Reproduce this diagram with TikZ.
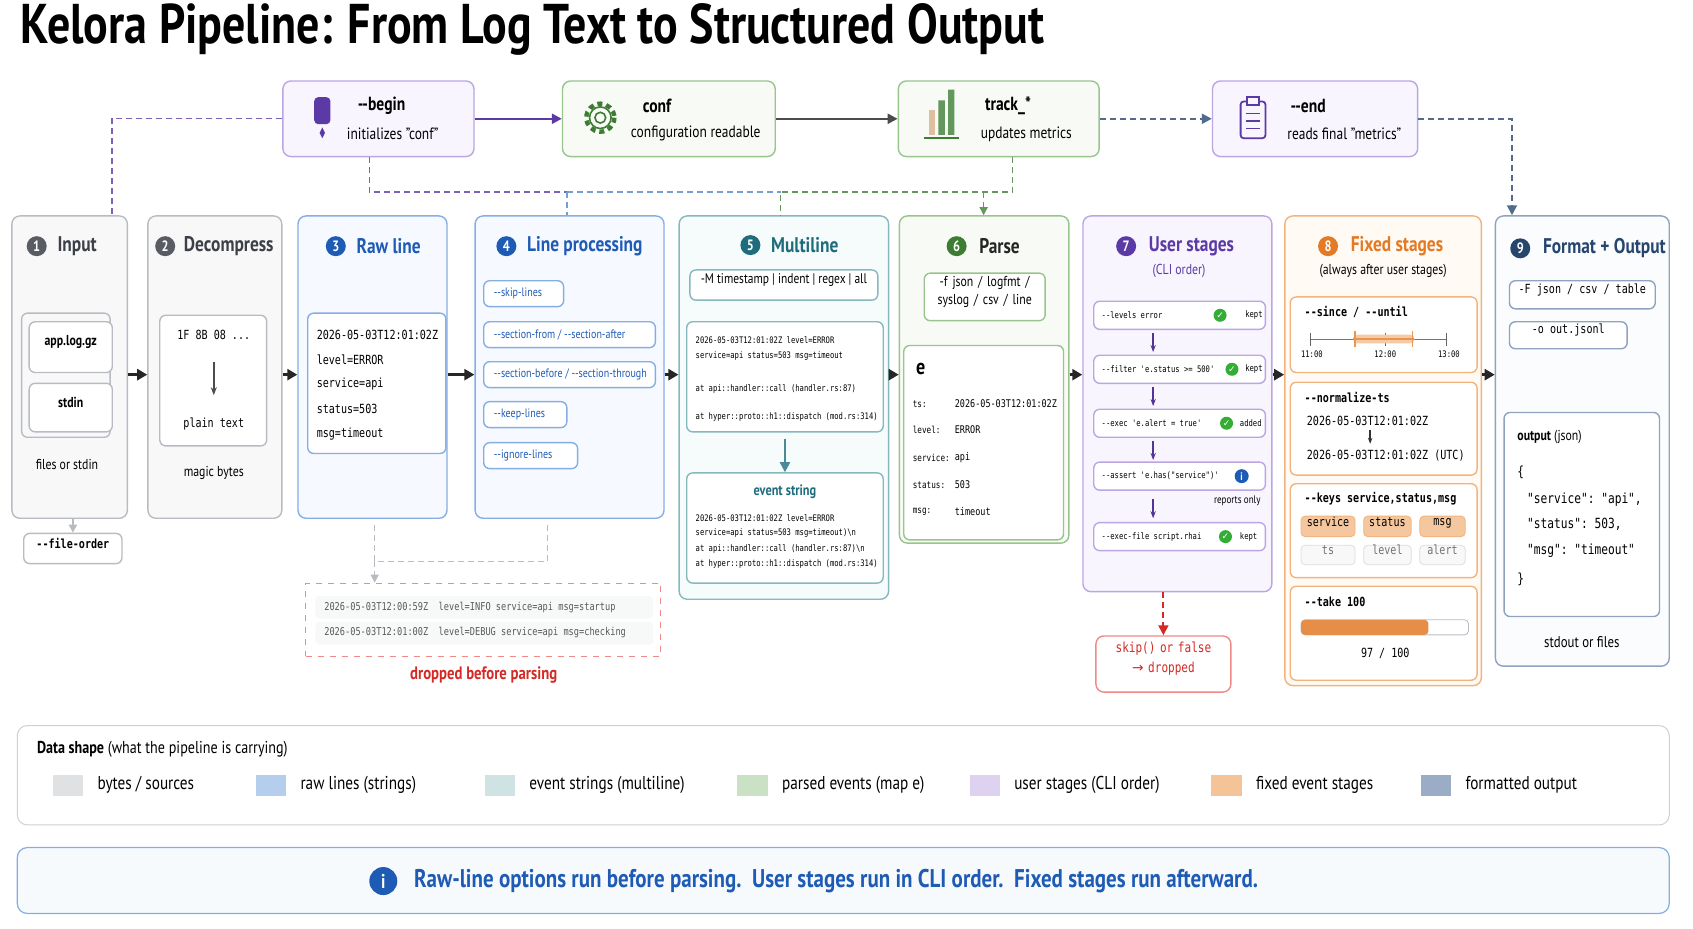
\documentclass[tikz,border=0pt]{standalone}
\usepackage{fontspec}
\setmainfont{PT Sans}[FakeStretch=0.82]
\setmonofont{DejaVu Sans Mono}[FakeStretch=0.8]
\newfontfamily\sym{DejaVu Sans}
\usetikzlibrary{positioning,fit,calc,arrows.meta}

\definecolor{gryB}{HTML}{B8BCC2}\definecolor{gryF}{HTML}{F8F8F9}\definecolor{gryT}{HTML}{3C4047}
\definecolor{bluB}{HTML}{86AEE3}\definecolor{bluF}{HTML}{F6F9FF}\definecolor{bluT}{HTML}{1E5BB5}
\definecolor{tlB}{HTML}{86B8BF}\definecolor{tlF}{HTML}{F6FBFB}\definecolor{tlT}{HTML}{1E6C7C}
\definecolor{grnB}{HTML}{98C48D}\definecolor{grnF}{HTML}{F8FBF5}\definecolor{grnT}{HTML}{3D7D33}
\definecolor{prpB}{HTML}{BBA6E2}\definecolor{prpF}{HTML}{F8F5FE}\definecolor{prpT}{HTML}{5B3AA6}
\definecolor{orgB}{HTML}{F2B47E}\definecolor{orgF}{HTML}{FFFAF4}\definecolor{orgT}{HTML}{E27A26}
\definecolor{slB}{HTML}{8FA3C0}\definecolor{slF}{HTML}{FBFCFE}\definecolor{slT}{HTML}{27466E}
\definecolor{redB}{HTML}{EE8A88}\definecolor{redT}{HTML}{D42A25}

\newcommand\fTitle{\fontsize{28}{32}\selectfont\bfseries}
\newcommand\fHead{\fontsize{10.6}{12}\selectfont\bfseries}
\newcommand\fHook{\fontsize{9.5}{11}\selectfont\bfseries}
\newcommand\fSub{\fontsize{8.2}{10}\selectfont}
\newcommand\fSm{\fontsize{7.2}{9}\selectfont}
\newcommand\fMono{\ttfamily\fontsize{6.3}{8}\selectfont}
\newcommand\fTiny{\ttfamily\fontsize{4.5}{6}\selectfont}
\newcommand\fKey{\ttfamily\fontsize{5.3}{7}\selectfont}

\tikzset{
  box/.style={draw=#1B, fill=#1F, rounded corners=4pt, line width=0.7pt, inner sep=0pt},
  pill/.style={draw=#1B, fill=white, rounded corners=3pt, line width=0.7pt, inner sep=0pt},
  badge/.style={circle, fill=#1, text=white, inner sep=0pt, minimum size=10pt, font=\fontsize{7.5}{8}\selectfont\bfseries},
  head/.style={text=#1, font=\fHead, inner sep=0pt},
  flow/.style={line width=1.3pt, -{Triangle[length=5pt,width=5.5pt]}, black!85},
  dline/.style={line width=0.7pt, dash pattern=on 3pt off 2pt},
  tx/.style={anchor=west, inner sep=0pt},
  okmark/.style={circle, fill=green!60!black!80, text=white, inner sep=0pt, minimum size=6.5pt, font=\sym\fontsize{4.5}{5}\selectfont},
}

\begin{document}
\begin{tikzpicture}[x=0.54pt,y=-0.54pt]
\useasboundingbox (0,0) rectangle (1568,860);
\node[tx, font=\fTitle] (title) at (19,27) {Kelora Pipeline: From Log Text to Structured Output};

% hooks row
\node[box=prp, fit={(262,75)(439,145)}] (begin) {};
\node[box=grn, fit={(521,75)(718,145)}] (conf) {};
\node[box=grn, fit={(832,75)(1018,145)}] (track) {};
\node[box=prp, fit={(1123,75)(1313,145)}] (endb) {};
\node[tx, font=\fHook] at (331,98) {-{}-begin};
\node[tx, font=\fSub] at (321,124) {initializes "conf"};
\node[tx, font=\fHook] at (595,98) {conf};
\node[tx, font=\fSub] at (584,124) {configuration readable};
\node[tx, font=\fHook] at (912,98) {track\_*};
\node[tx, font=\fSub] at (908,124) {updates metrics};
\node[tx, font=\fHook] at (1195,98) {-{}-end};
\node[tx, font=\fSub] at (1192,124) {reads final "metrics"};
\fill[prpT, rounded corners=2pt] (291,90) rectangle (306,115);
\fill[prpT] (298.5,118) -- (301,123) -- (298.5,128) -- (296,123) -- cycle;
\draw[grnT, line width=2.2pt, dash pattern=on 2.5pt off 2pt] (556,109) circle (13);
\draw[grnT, line width=0.8pt] (556,109) circle (10) (556,109) circle (5);
\fill[brown!50] (860,102) rectangle (866,125);
\fill[grnT!80] (869,93) rectangle (875,125) (878,83) rectangle (884,125);
\draw[grnT, line width=1pt] (856,128) -- (888,128);
\draw[prpT, line width=0.9pt, rounded corners=1.5pt] (1149,94) rectangle (1172,128);
\draw[prpT, line width=0.9pt, fill=prpF] (1155,90) rectangle (1166,97);
\foreach \yy in {105,112,119} \draw[prpT, line width=0.8pt] (1154,\yy) -- (1167,\yy);

% stage columns
\node[box=gry, fit={(11,200)(118,480)}] (input) {};
\node[box=gry, fit={(137,200)(261,480)}] (decomp) {};
\node[box=blu, fit={(276,200)(414,480)}] (raw) {};
\node[box=blu, fit={(440,200)(615,480)}] (lineproc) {};
\node[box=tl, fit={(629,200)(823,555)}] (multi) {};
\node[box=grn, fit={(833,200)(990,503)}] (parse) {};
\node[box=prp, fit={(1003,200)(1178,548)}] (user) {};
\node[box=org, fit={(1190,200)(1372,635)}] (fixed) {};
\node[box=sl, fit={(1385,200)(1546,617)}] (fmt) {};

\node[badge=gryT!85] (b1) at (34,228) {1};
\node[head=gryT, right=5pt of b1] {Input};
\node[badge=gryT!85] (b2) at (153,228) {2};
\node[head=gryT, right=4pt of b2] {Decompress};
\node[badge=bluT] (b3) at (311,228) {3};
\node[head=bluT, right=5pt of b3] {Raw line};
\node[badge=bluT] (b4) at (469,228) {4};
\node[head=bluT, right=5pt of b4] {Line processing};
\node[badge=tlT] (b5) at (695,227) {5};
\node[head=tlT, right=5pt of b5] {Multiline};
\node[badge=grnT] (b6) at (886,228) {6};
\node[head=black!85, right=6pt of b6] {Parse};
\node[badge=prpT] (b7) at (1043,228) {7};
\node[head=prpT, right=6pt of b7] {User stages};
\node[font=\fSm, text=prpT] at (1092,251) {(CLI order)};
\node[badge=orgT] (b8) at (1230,228) {8};
\node[head=orgT, right=6pt of b8] {Fixed stages};
\node[font=\fSm] at (1281,251) {(always after user stages)};
\node[badge=slT] (b9) at (1408,230) {9};
\node[head=slT, right=6pt of b9] {Format + Output};

\coordinate (mid) at (0,347);
\foreach \a/\b in {input/decomp,decomp/raw,raw/lineproc,lineproc/multi,multi/parse,parse/user,user/fixed,fixed/fmt}
  \draw[flow] (\a.east |- mid) -- (\b.west |- mid);

% 1 input
\node[pill=gry, fill=gryF, fit={(20,290)(102,405)}] {};
\node[pill=gry, fit={(27,298)(104,345)}, font=\fSm\bfseries] {app.log.gz};
\node[pill=gry, fit={(27,355)(104,400)}, font=\fSm\bfseries] {stdin};
\node[font=\fSm] at (62,430) {files or stdin};
\node[pill=gry, fit={(22,494)(113,522)}, font=\fMono\bfseries] (forder) {--file-order};
\draw[gryB, line width=1pt, -{Triangle[length=4pt,width=4pt]}] (input.south -| forder) -- (forder.north);

% 2 decompress
\node[pill=gry, fit={(148,292)(247,413)}] {};
\node[font=\fMono] (hex) at (198,310) {1F 8B 08 ...};
\node[font=\fMono] (plain) at (198,393) {plain text};
\draw[black!70, line width=0.8pt, -{Stealth[length=4pt]}] (198,335) -- (198,366);
\node[font=\fSm] at (198,438) {magic bytes};

% 3 raw line
\node[pill=blu, fit={(285,290)(413,420)}] {};
\foreach \t [count=\i] in {2026-05-03T12:01:02Z,level=ERROR,service=api,status=503,msg=timeout}
  \node[tx, font=\fMono] at (293,287+23*\i) {\t};

% 4 line processing
\foreach \xb/\yy/\t in {522/272/{-{}-skip-lines},607/310/{-{}-section-from / -{}-section-after},607/347/{-{}-section-before / -{}-section-through},525/384/{-{}-keep-lines},535/422/{-{}-ignore-lines}}{
  \node[pill=blu, fit={(448,\yy-12)(\xb,\yy+12)}] {};
  \node[tx, font=\fontsize{6.1}{7}\selectfont, text=bluT] at (457,\yy) {\t};}

% dropped before parsing
\node[draw=redB, dashed, fill=white, inner sep=0pt, fit={(283,540)(612,608)}] (drop) {};
\fill[gryF!70!gryB!30, rounded corners=2pt] (292,552) rectangle (605,573) (292,576) rectangle (605,597);
\node[tx, font=\ttfamily\fontsize{5.4}{7}\selectfont, text=black!65] at (300,563) {2026-05-03T12:00:59Z\ \ level=INFO service=api msg=startup};
\node[tx, font=\ttfamily\fontsize{5.4}{7}\selectfont, text=black!65] at (300,586) {2026-05-03T12:01:00Z\ \ level=DEBUG service=api msg=checking};
\node[font=\fontsize{9}{11}\selectfont\bfseries, text=redT] at (448,625) {dropped before parsing};
\coordinate (dj) at (347,520);
\draw[gryB, dline] (347,486) -- (dj) -- (507,520);
\draw[gryB, dline] (507,486) -- (507,520);
\draw[gryB, dline, -{Triangle[length=4pt,width=4pt]}] (dj) -- (drop.north -| dj);

% 5 multiline
\node[pill=tl, fit={(639,250)(813,278)}, font=\fontsize{7}{8}\selectfont] {-M timestamp | indent | regex | all};
\node[pill=tl, fit={(636,298)(818,400)}] {};
\node[tx, font=\fTiny] at (644,315) {2026-05-03T12:01:02Z level=ERROR};
\node[tx, font=\fTiny] at (644,330) {service=api status=503 msg=timeout};
\node[tx, font=\fTiny] at (644,360) {at api::handler::call (handler.rs:87)};
\node[tx, font=\fTiny] at (644,386) {at hyper::proto::h1::dispatch (mod.rs:314)};
\node[pill=tl, fit={(636,438)(818,540)}] (evs) {};
\node[font=\fontsize{7.5}{9}\selectfont\bfseries, text=tlT] at (727,455) {event string};
\node[tx, font=\fTiny] at (644,480) {2026-05-03T12:01:02Z level=ERROR};
\node[tx, font=\fTiny] at (644,494) {service=api status=503 msg=timeout)\textbackslash n};
\node[tx, font=\fTiny] at (644,508) {at api::handler::call (handler.rs:87)\textbackslash n};
\node[tx, font=\fTiny] at (644,522) {at hyper::proto::h1::dispatch (mod.rs:314)};
\draw[tlT!80, line width=1pt, -{Triangle[length=5pt,width=5pt]}] (727,407) -- (evs.north);

% 6 parse
\node[pill=grn, fit={(856,253)(968,297)}, font=\fSm, align=center] {-f json / logfmt /\\ syslog / csv / line};
\node[pill=grn, fit={(837,320)(985,500)}] {};
\node[tx, font=\fontsize{11}{12}\selectfont\bfseries] at (848,342) {e};
\foreach \k/\v/\yy in {ts:/2026-05-03T12:01:02Z/374,level:/ERROR/398,service:/api/424,status:/503/449,msg:/timeout/474}{
  \node[tx, font=\ttfamily\fontsize{4.8}{6}\selectfont] at (845,\yy) {\k};
  \node[tx, font=\fKey] at (884,\yy) {\v};}
\coordinate (bus1) at (342,178);
\coordinate (bus2) at (525,178);
\coordinate (bus3) at (723,178);
\coordinate (bus4) at (938,178);
\draw[prpT!80, dline] (begin.south -| bus1) -- (bus1) -- (bus2);
\draw[bluT!60, dline] (bus2) -- (bus3) (bus2) -- (lineproc.north -| bus2);
\draw[grnT!80, dline] (track.south -| bus4) -- (bus4) -- (bus3) -- (multi.north -| bus3);
\draw[grnT!80, dline, -{Triangle[length=4pt,width=4pt]}] (911,178) -- (parse.north -| 911,0);

% 7 user stages
\foreach \t/\yy/\cx/\lab/\lx in {--levels error/292/1130/kept/1153,--filter 'e.status >= 500'/342/1141/kept/1153,--exec 'e.alert = true'/392/1136/added/1148,--exec-file script.rhai/497/1135/kept/1148}{
  \node[pill=prp, fit={(1013,\yy-13)(1172,\yy+13)}] {};
  \node[tx, font=\fTiny] at (1020,\yy) {\t};
  \node[okmark] at (\cx,\yy) {✓};
  \node[tx, font=\fTiny] at (\lx,\yy) {\lab};}
\node[pill=prp, fit={(1013,428)(1172,454)}] (assert) {};
\node[tx, font=\fTiny] at (1020,441) {--assert 'e.has("service")'};
\node[circle, fill=bluT, text=white, inner sep=0pt, minimum size=7pt, font=\fontsize{5.5}{5}\selectfont\bfseries] at (1150,441) {i};
\node[tx, font=\fontsize{5.5}{6}\selectfont] at (1124,464) {reports only};
\foreach \ya/\yb in {308/326,358/376,408/426,462/480}
  \draw[prpT!90!black, line width=0.8pt, -{Stealth[length=3.5pt]}] (1068,\ya) -- (1068,\yb);
\node[draw=redB, fill=white, rounded corners=4pt, line width=0.7pt, inner sep=0pt, fit={(1015,589)(1140,641)}, font=\ttfamily\fontsize{6.9}{10}\selectfont, text=redT, align=center] (skip) {skip() or false\\{\sym →} dropped};
\draw[redT, dline, line width=1pt, -{Triangle[length=5pt,width=5pt]}] (user.south -| skip) -- (skip.north);

% 8 fixed stages
\node[pill=org, fit={(1195,275)(1368,345)}] {};
\node[tx, font=\fMono\bfseries] at (1208,289) {--since / --until};
\draw[black!55, line width=0.5pt] (1214,314) -- (1340,314);
\foreach \xx in {1214,1283,1340} \draw[black!60] (\xx,308) -- (\xx,320);
\fill[orgB!70, rounded corners=2pt] (1253,310) rectangle (1310,318);
\draw[orgT!80, line width=0.6pt] (1253,314) -- (1310,314) (1255,307) -- (1255,321) (1308,307) -- (1308,321);
\foreach \xx/\t in {1215/11:00,1283/12:00,1342/13:00} \node[font=\fTiny] at (\xx,328) {\t};
\node[pill=org, fit={(1195,354)(1368,440)}] {};
\node[tx, font=\fMono\bfseries] at (1208,368) {--normalize-ts};
\node[tx, font=\fMono] at (1210,390) {2026-05-03T12:01:02Z};
\draw[black!80, line width=0.7pt, -{Stealth[length=3pt]}] (1269,398) -- (1269,411);
\node[tx, font=\fMono] at (1210,422) {2026-05-03T12:01:02Z (UTC)};
\node[pill=org, fit={(1195,448)(1368,535)}] {};
\node[tx, font=\fMono\bfseries] at (1208,462) {--keys service,status,msg};
\foreach \xa/\xb/\t in {1205/1255/service,1263/1307/status,1315/1357/msg}{
  \node[draw=orgB, fill=orgB!75, rounded corners=2pt, inner sep=0pt, fit={(\xa,478)(\xb,497)}, font=\fMono] {\t};}
\foreach \xa/\xb/\t in {1205/1255/ts,1263/1307/level,1315/1357/alert}{
  \node[draw=gryB!50, fill=gryF, rounded corners=2pt, inner sep=0pt, fit={(\xa,505)(\xb,523)}, font=\fMono, text=black!55] {\t};}
\node[pill=org, fit={(1195,543)(1368,630)}] {};
\node[tx, font=\fMono\bfseries] at (1208,557) {--take 100};
\draw[gryB, fill=white, rounded corners=2pt] (1205,574) rectangle (1360,588);
\fill[orgT!85, rounded corners=2pt] (1205,574) rectangle (1323,588);
\node[font=\fMono] at (1283,605) {97 / 100};

% 9 format + output
\node[pill=sl, fit={(1398,260)(1533,286)}, font=\fMono] {-F json / csv / table};
\node[pill=sl, fit={(1398,298)(1507,323)}, font=\fMono] {-o out.jsonl};
\node[pill=sl, fit={(1393,382)(1537,571)}] {};
\node[tx, font=\fSm] at (1405,405) {\textbf{output} (json)};
\node[tx, font=\ttfamily\fontsize{7}{8}\selectfont] at (1405,437) {\{};
\node[tx, font=\ttfamily\fontsize{7}{8}\selectfont] at (1414,463) {"service": "api",};
\node[tx, font=\ttfamily\fontsize{7}{8}\selectfont] at (1414,486) {"status": 503,};
\node[tx, font=\ttfamily\fontsize{7}{8}\selectfont] at (1414,510) {"msg": "timeout"};
\node[tx, font=\ttfamily\fontsize{7}{8}\selectfont] at (1405,537) {\}};
\node[font=\fontsize{7.8}{9}\selectfont] at (1465,595) {stdout or files};

% hook connectors
\draw[prpT, line width=1.1pt, -{Triangle[length=5pt,width=5pt]}] (begin) -- (conf);
\draw[black!70, line width=1.1pt, -{Triangle[length=5pt,width=5pt]}] (conf) -- (track);
\draw[slT!80, dline, line width=1pt, -{Triangle[length=5pt,width=5pt]}] (track) -- (endb);
\draw[slT!80, dline, line width=0.9pt, -{Triangle[length=5pt,width=5pt]}] (endb.east) -| ($(fmt.north west)+(16,0)$);
\draw[prpT!80, dline] (begin.west) -| ($(input.north east)+(-15,0)$);

% legend
\node[draw=gryB!70, fill=white, rounded corners=5pt, line width=0.5pt, inner sep=0pt, fit={(16,672)(1546,764)}] (legend) {};
\node[tx, font=\fontsize{8.6}{10}\selectfont] at (34,694) {\textbf{Data shape} (what the pipeline is carrying)};
\foreach \xx/\c/\t in {49/gryB!45/{bytes / sources},237/bluB!60/{raw lines (strings)},449/tlB!40/{event strings (multiline)},683/grnB!50/{parsed events (map e)},898/prpB!50/{user stages (CLI order)},1122/orgB!80/{fixed event stages},1316/slB!90/{formatted output}}{
  \fill[\c] (\xx,718) rectangle (\xx+28,737);
  \node[tx, font=\fontsize{9.3}{11}\selectfont] at (\xx+41,727) {\t};}

% note bar
\node[draw=bluB, fill=bluF!60!bluB!15, rounded corners=5pt, line width=0.6pt, inner sep=0pt, fit={(16,785)(1546,846)}] (note) {};
\node[circle, fill=bluT, text=white, inner sep=0pt, minimum size=14pt, font=\fontsize{10}{10}\selectfont\bfseries] (info) at (355,816) {i};
\node[tx, right=8pt of info, font=\fontsize{12.8}{14}\selectfont\bfseries, text=bluT] {Raw-line options run before parsing.\ \ User stages run in CLI order.\ \ Fixed stages run afterward.};
\end{tikzpicture}
\end{document}
